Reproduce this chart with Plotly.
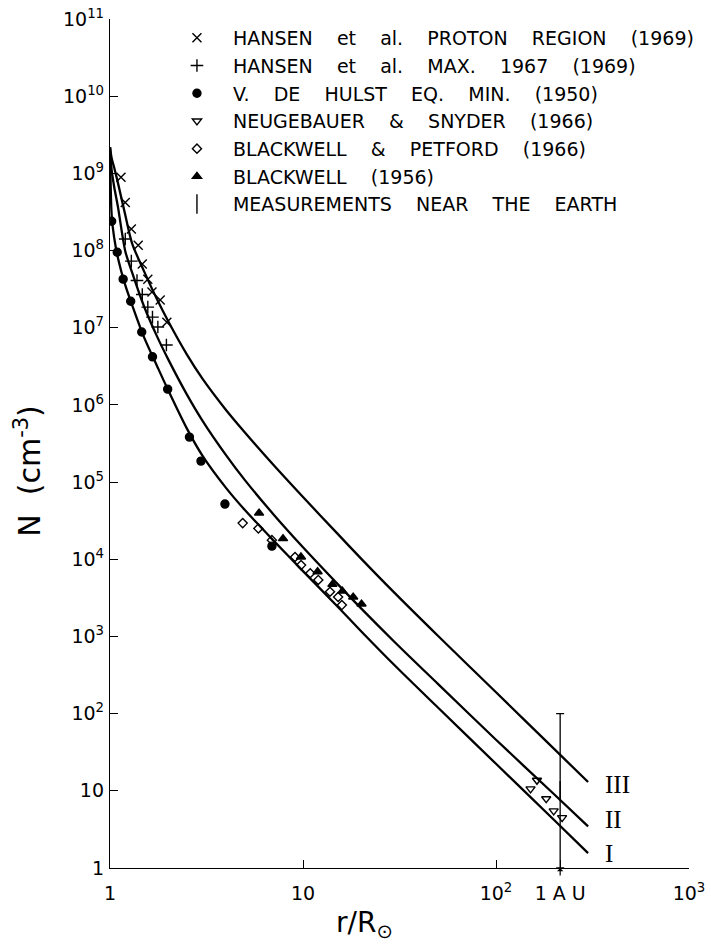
import math
import plotly.graph_objects as go

# ---------------- data ----------------
r_curve = [1.0, 1.02, 1.05, 1.1, 1.2, 1.3, 1.5, 1.75, 2, 2.5, 3, 4, 5, 7, 10, 15, 20, 30, 50, 100, 200, 300]
n_curve_I = [2.18e9, 2.88e8, 1.49e8, 7.97e7, 3.56e7, 1.99e7, 7.55e6, 3.22e6, 1.56e6, 4.97e5, 2.24e5,
             8.36e4, 4.34e4, 1.77e4, 7.03e3, 2.48e3, 1.17e3, 417, 120, 22.4, 4.19, 1.56]
n_curve_II = [2.18e9, 1.10e9, 6.82e8, 3.65e8, 9.82e7, 5.25e7, 1.90e7, 7.78e6, 3.92e6, 1.37e6, 6.37e5,
              2.22e5, 1.06e5, 3.87e4, 1.43e4, 4.87e3, 2.31e3, 836, 243, 45.9, 9.02, 3.47]
n_curve_III = [2.18e9, 1.57e9, 1.20e9, 7.47e8, 2.88e8, 1.25e8, 5.41e7, 2.35e7, 1.22e7, 4.51e6, 2.22e6,
               8.53e5, 4.39e5, 1.69e5, 6.41e4, 2.18e4, 1.02e4, 3.61e3, 1.02e3, 189, 34.9, 13.0]
curve_labels = ["I", "II", "III"]
curve_label_r = 358
curve_label_n = [1.56, 4.19, 11.9]

hansen_proton_r = [1.14, 1.20, 1.29, 1.40, 1.47, 1.57, 1.65, 1.82, 1.97]
hansen_proton_n = [8.9e8, 4.2e8, 1.9e8, 1.17e8, 6.7e7, 4.26e7, 2.9e7, 2.28e7, 1.18e7]

hansen_max_r = [1.20, 1.29, 1.38, 1.47, 1.57, 1.66, 1.77, 1.96]
hansen_max_n = [1.41e8, 7.3e7, 4.1e7, 2.7e7, 1.85e7, 1.37e7, 1.02e7, 5.96e6]

vdh_r = [1.02, 1.09, 1.17, 1.28, 1.46, 1.66, 1.99, 2.58, 2.96, 3.94, 6.9]
vdh_n = [2.4e8, 9.5e7, 4.26e7, 2.2e7, 8.8e6, 4.2e6, 1.6e6, 3.83e5, 1.87e5, 5.19e4, 1.48e4]

ns_r = [151, 163, 182, 199, 220]
ns_n = [10.6, 13.7, 7.9, 5.5, 4.5]

bp_r = [4.87, 5.87, 6.9, 9.09, 9.77, 10.9, 12.0, 13.8, 15.2, 15.9]
bp_n = [2.94e4, 2.51e4, 1.77e4, 1.07e4, 8.4e3, 6.6e3, 5.4e3, 3.8e3, 3.24e3, 2.55e3]

bw_r = [5.92, 7.88, 9.76, 11.9, 14.2, 16.0, 18.2, 20.1]
bw_n = [3.97e4, 1.85e4, 1.07e4, 6.9e3, 4.73e3, 3.87e3, 3.24e3, 2.63e3]

earth_r = [215]
earth_lo = [1]
earth_hi = [100]

names = [
    "HANSEN   et   al.   PROTON   REGION   (1969)",
    "HANSEN   et   al.   MAX.   1967   (1969)",
    "V.   DE   HULST   EQ.   MIN.   (1950)",
    "NEUGEBAUER   &   SNYDER   (1966)",
    "BLACKWELL   &   PETFORD   (1966)",
    "BLACKWELL   (1956)",
    "MEASUREMENTS   NEAR   THE   EARTH",
]

y_tick_vals = [10 ** k for k in range(0, 12)]
y_tick_text = ["1", "10"] + ["10<sup>%d</sup>" % k for k in range(2, 12)]
x_tick_vals = [1, 10, 100, 215, 1000]
x_tick_text = ["1", "10", "10<sup>2</sup>", "1 A U", "10<sup>3</sup>"]

x_title = "r/R<sub>⊙</sub>"
y_title = "N\u00a0\u00a0(cm<sup>-3</sup>)"

# ---------------- figure ----------------
NB = "\u00a0"
def sp(s):
    return s.replace("   ", NB + NB + NB + " ")

fig = go.Figure()

for ncurve in (n_curve_I, n_curve_II, n_curve_III):
    fig.add_trace(go.Scatter(
        x=r_curve, y=ncurve, mode="lines",
        line=dict(color="black", width=2.3, shape="spline", smoothing=0.8),
        showlegend=False, hoverinfo="skip"))

def mtrace(x, y, name, symbol, size):
    return go.Scatter(
        x=x, y=y, mode="markers", name=sp(name),
        marker=dict(symbol=symbol, size=size, color="black",
                    line=dict(color="black", width=1.4)))

fig.add_trace(mtrace(hansen_proton_r, hansen_proton_n, names[0], "x-thin-open", 9))
fig.add_trace(mtrace(hansen_max_r, hansen_max_n, names[1], "cross-thin-open", 9))
fig.add_trace(mtrace(vdh_r, vdh_n, names[2], "circle", 8))
fig.add_trace(mtrace(ns_r, ns_n, names[3], "triangle-down-open", 8))
fig.add_trace(mtrace(bp_r, bp_n, names[4], "diamond-open", 7))
fig.add_trace(mtrace(bw_r, bw_n, names[5], "triangle-up", 8))

earth_c = [math.sqrt(a * b) for a, b in zip(earth_lo, earth_hi)]
fig.add_trace(go.Scatter(
    x=earth_r, y=earth_c, mode="markers", name=sp(names[6]),
    marker=dict(symbol="line-ns-open", size=14, color="black", line=dict(color="black", width=1.4)),
    error_y=dict(type="data", symmetric=False,
                 array=[h - c for h, c in zip(earth_hi, earth_c)],
                 arrayminus=[c - l for c, l in zip(earth_c, earth_lo)],
                 width=4, thickness=1.3, color="black")))

for lab, ln in zip(curve_labels, curve_label_n):
    fig.add_annotation(x=math.log10(curve_label_r), y=math.log10(ln),
                       xref="x", yref="y", text=lab, showarrow=False,
                       xanchor="left", yanchor="middle",
                       font=dict(family="Liberation Serif", size=25, color="black"))

# small arrow marking 1 AU on the axis
fig.add_annotation(x=math.log10(earth_r[0]), y=0, xref="x", yref="y", text="",
                   showarrow=True, ax=0, ay=9, arrowhead=1, arrowsize=0.9,
                   arrowwidth=1.2, arrowcolor="black")

# axis titles
fig.add_annotation(x=0.4404, y=-0.067, xref="paper", yref="paper", text=x_title,
                   showarrow=False, xanchor="center", yanchor="middle",
                   font=dict(family="DejaVu Sans", size=28, color="black"))
fig.add_annotation(x=-0.142, y=0.4676, xref="paper", yref="paper", text=y_title,
                   showarrow=False, xanchor="center", yanchor="middle", textangle=-90,
                   font=dict(family="DejaVu Sans", size=30, color="black"))

fig.update_layout(
    width=711, height=948,
    margin=dict(l=110, r=22, t=19, b=80, autoexpand=False),
    paper_bgcolor="white", plot_bgcolor="white",
    font=dict(family="DejaVu Sans", color="black"),
    showlegend=True,
    legend=dict(x=0.088, y=1.0, xanchor="left", yanchor="top",
                font=dict(family="DejaVu Sans", size=19, color="black"),
                itemwidth=62, bgcolor="rgba(0,0,0,0)", borderwidth=0,
                tracegroupgap=0),
)

fig.update_xaxes(
    type="log", range=[0, 3], showline=True, linecolor="black", linewidth=1.3,
    mirror=False, ticks="inside", ticklen=8, tickwidth=1.3, tickcolor="black",
    tickvals=x_tick_vals, ticktext=x_tick_text, showgrid=False, zeroline=False,
    tickfont=dict(family="DejaVu Sans", size=19, color="black"), ticklabelstandoff=8,
    automargin=False,
)
fig.update_yaxes(
    type="log", range=[0, 11], showline=True, linecolor="black", linewidth=1.3,
    mirror=False, ticks="inside", ticklen=8, tickwidth=1.3, tickcolor="black",
    tickvals=y_tick_vals, ticktext=y_tick_text, showgrid=False, zeroline=False,
    tickfont=dict(family="DejaVu Sans", size=19, color="black"), ticklabelstandoff=1,
    automargin=False,
)

fig.write_html("out.html")
